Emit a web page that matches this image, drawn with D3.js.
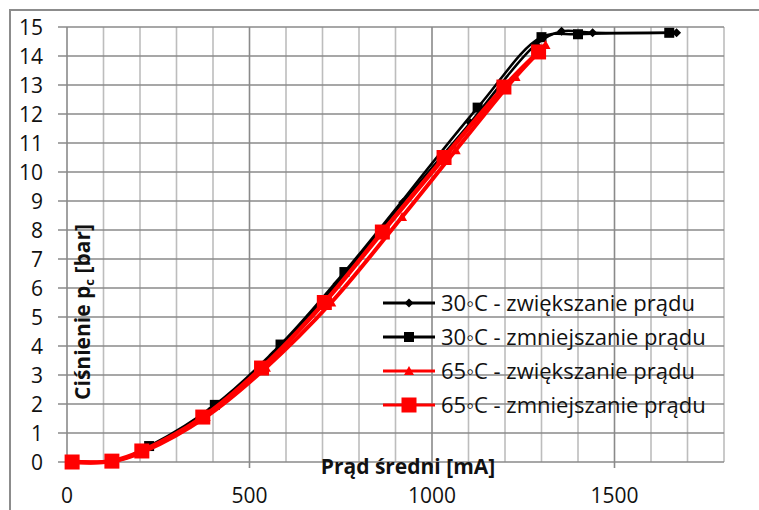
<!DOCTYPE html>
<html>
<head>
<meta charset="utf-8">
<script src="https://d3js.org/d3.v7.min.js"></script>
<style>
  body { margin: 0; background: #fff; }
  text { font-family: "Open Sans", sans-serif; fill: #111; }
</style>
</head>
<body>
<svg id="chart" width="759" height="510"></svg>
<script>
// values: [current mA, pressure bar]
var s30up = [[15, 0], [125, 0.03], [215, 0.42], [390, 1.75], [565, 3.7], [740, 6.15], [920, 8.95], [1105, 11.7], [1285, 14.4], [1355, 14.85], [1440, 14.8], [1670, 14.8]];
var s30down = [[1650, 14.8], [1400, 14.75], [1300, 14.65], [1125, 12.22], [760, 6.55], [585, 4.05], [405, 1.97], [225, 0.55], [128, 0.03], [15, 0]];
var s65up = [[15, 0], [125, 0.03], [210, 0.36], [380, 1.55], [545, 3.25], [724, 5.5], [918, 8.45], [1065, 10.75], [1229, 13.28], [1311, 14.38]];
var s65down = [[1292, 14.14], [1197, 12.93], [1033, 10.5], [864, 7.93], [705, 5.5], [533, 3.24], [372, 1.55], [205, 0.38], [123, 0.03], [14, 0]];
var legendLabels = ["30\u25E6C - zwiększanie prądu", "30\u25E6C - zmniejszanie prądu", "65\u25E6C - zwiększanie prądu", "65\u25E6C - zmniejszanie prądu"];
var xTicks = [0, 500, 1000, 1500];
var yTicks = d3.range(0, 16);

var svg = d3.select("#chart");

// outer frame
svg.append("rect").attr("x", 10).attr("y", 10).attr("width", 800).attr("height", 600)
  .attr("fill", "none").attr("stroke", "#8c8c8c").attr("stroke-width", 2);

var x = d3.scaleLinear().domain([0, 1800]).range([67, 724]);
var y = d3.scaleLinear().domain([0, 15]).range([462, 27]);

// grid
var grid = svg.append("g");
d3.range(0, 1801, 100).forEach(function(v) {
  var major = v % 500 == 0;
  grid.append("line").attr("x1", x(v)).attr("x2", x(v))
    .attr("y1", y(15)).attr("y2", major ? y(0) + 6 : y(0))
    .attr("stroke", major ? "#8a8a8a" : "#bdbdbd").attr("stroke-width", 1.6);
});
yTicks.forEach(function(v) {
  grid.append("line").attr("x1", x(0) - 9).attr("x2", x(1800))
    .attr("y1", y(v)).attr("y2", y(v))
    .attr("stroke", "#8a8a8a").attr("stroke-width", 1.6);
});

// tick labels
svg.append("g").selectAll("text").data(yTicks).enter().append("text")
  .attr("x", 43).attr("y", function(d) { return y(d) + 7.5; })
  .attr("text-anchor", "end").attr("font-size", 21).text(function(d) { return d; });
svg.append("g").selectAll("text").data(xTicks).enter().append("text")
  .attr("x", function(d) { return x(d); }).attr("y", 503)
  .attr("text-anchor", "middle").attr("font-size", 21).text(function(d) { return d; });

// axis titles
svg.append("text").attr("x", 408).attr("y", 474).attr("text-anchor", "middle")
  .attr("font-size", 21).attr("font-weight", "bold").text("Prąd średni [mA]");
var yt = svg.append("text").attr("transform", "translate(90,312) rotate(-90)")
  .attr("text-anchor", "middle").attr("font-size", 21).attr("font-weight", "bold");
yt.append("tspan").text("Ciśnienie p");
yt.append("tspan").attr("font-size", 13).attr("dy", 4).text("c");
yt.append("tspan").attr("dy", -4).text(" [bar]");

var line = d3.line().x(function(d) { return x(d[0]); }).y(function(d) { return y(d[1]); })
  .curve(d3.curveCatmullRom.alpha(0.5));

var series = [
  { data: s30up, color: "#000", width: 2.5, lw: 3, marker: "diamond", size: 9 },
  { data: s30down, color: "#000", width: 2.5, lw: 3, marker: "square", size: 10 },
  { data: s65up, color: "#f00", width: 4, lw: 3, marker: "triangle", size: 10 },
  { data: s65down, color: "#f00", width: 4.5, lw: 3, marker: "square", size: 15 }
];

function drawMarker(g, type, size, color, cx, cy) {
  var h = size / 2;
  if (type == "square") {
    g.append("rect").attr("x", cx - h).attr("y", cy - h).attr("width", size).attr("height", size).attr("fill", color);
  } else if (type == "diamond") {
    g.append("path").attr("d", "M" + cx + "," + (cy - h) + "L" + (cx + h) + "," + cy + "L" + cx + "," + (cy + h) + "L" + (cx - h) + "," + cy + "Z").attr("fill", color);
  } else {
    g.append("path").attr("d", "M" + cx + "," + (cy - h) + "L" + (cx + h) + "," + (cy + h * 0.8) + "L" + (cx - h) + "," + (cy + h * 0.8) + "Z").attr("fill", color);
  }
}

series.forEach(function(s) {
  var g = svg.append("g");
  g.append("path").datum(s.data).attr("d", line).attr("fill", "none")
    .attr("stroke", s.color).attr("stroke-width", s.width);
  s.data.forEach(function(d) { drawMarker(g, s.marker, s.size, s.color, x(d[0]), y(d[1])); });
});

// legend (no background, grid shows through)
var lg = svg.append("g");
series.forEach(function(s, i) {
  var cy = 303 + i * 34;
  lg.append("line").attr("x1", 383).attr("x2", 435).attr("y1", cy).attr("y2", cy)
    .attr("stroke", s.color).attr("stroke-width", s.lw);
  drawMarker(lg, s.marker, s.size, s.color, 409, cy);
  lg.append("text").attr("x", 441).attr("y", cy + 7.5).attr("font-size", 22).text(legendLabels[i]);
});
</script>
</body>
</html>
